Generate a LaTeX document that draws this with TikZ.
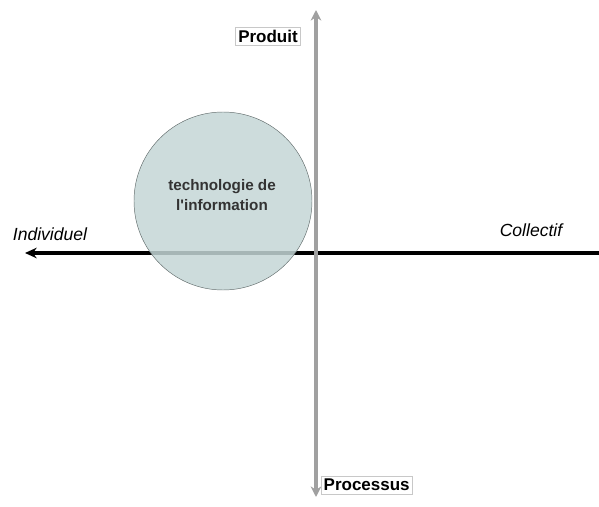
\documentclass[tikz,border=0pt]{standalone}
\usepackage{fontspec}
\setmainfont{Liberation Sans}
\usetikzlibrary{positioning, arrows.meta}
\definecolor{axisGray}{RGB}{160, 160, 160}
\definecolor{discFill}{RGB}{196, 214, 214}
\definecolor{discLine}{RGB}{100, 110, 110}
\definecolor{boxLine}{RGB}{200, 200, 200}
\tikzset{
  axisLabel/.style={
    draw=boxLine,
    fill=white,
    inner sep=2.5pt,
    font=\fontsize{14.5}{16}\selectfont\bfseries
  },
  sideLabel/.style={
    font=\fontsize{15}{17}\selectfont\itshape
  },
  discLabel/.style={
    align=center,
    font=\fontsize{13}{17}\selectfont\bfseries\color{black!80}
  }
}
\begin{document}
\begin{tikzpicture}
  \useasboundingbox (0,0) rectangle (17.97,-15.21);
  % axis end points
  \coordinate (top) at (9.48,-0.3);
  \coordinate (bottom) at (9.48,-14.91);
  \coordinate (left) at (0.75,-7.59);
  \coordinate (right) at (17.97,-7.59);
  % horizontal axis
  \draw[line width=3.5pt, -{Stealth[length=10pt, width=9pt]}] (right) -- (left);
  % disc
  \node[circle, draw=discLine, fill=discFill, fill opacity=0.85, minimum size=5.34cm] (disc) at (6.69,-6.03) {};
  \node[discLabel] (discText) at (6.66,-5.85) {technologie de\\l\textquotesingle information};
  % vertical axis
  \draw[line width=3.5pt, draw=axisGray, {Stealth[length=9pt, width=9pt]}-{Stealth[length=9pt, width=9pt]}] (bottom) -- (top);
  % labels
  \node[axisLabel] (produit) at (8.04,-1.08) {Produit};
  \node[axisLabel] (processus) at (11.0,-14.55) {Processus};
  \node[sideLabel] (individuel) at (1.5,-7.02) {Individuel};
  \node[sideLabel] (collectif) at (15.93,-6.9) {Collectif};
\end{tikzpicture}
\end{document}
